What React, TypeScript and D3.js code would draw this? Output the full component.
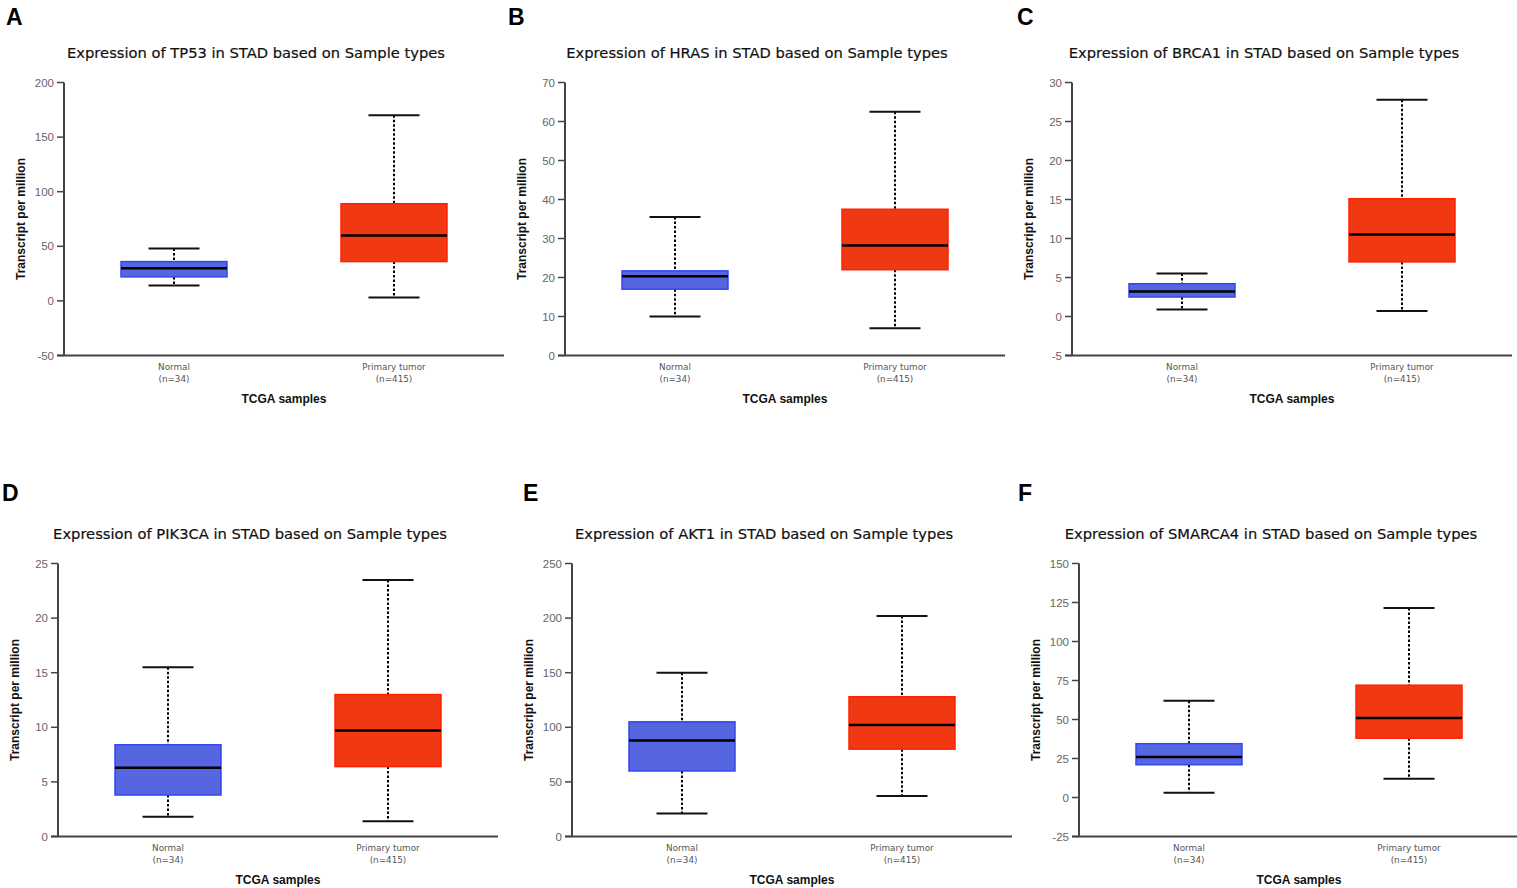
import React from "react";
import * as d3 from "d3";

const panelLetters = ["A", "B", "C", "D", "E", "F"];
const genes = ["TP53", "HRAS", "BRCA1", "PIK3CA", "AKT1", "SMARCA4"];
const categories = ["Normal", "Primary tumor"];
const sampleCounts = ["(n=34)", "(n=415)"];
const yDomains: [number, number][] = [
  [-50, 200],
  [0, 70],
  [-5, 30],
  [0, 25],
  [0, 250],
  [-25, 150],
];
const yTickSteps = [50, 10, 5, 5, 50, 25];
// [low whisker, Q1, median, Q3, high whisker]
const normalStats = [
  [14, 22, 30, 36, 48],
  [10, 17, 20.3, 21.7, 35.5],
  [0.9, 2.5, 3.2, 4.2, 5.5],
  [1.8, 3.8, 6.3, 8.4, 15.5],
  [21, 60, 88, 105, 150],
  [3, 21, 26, 34.5, 62],
];
const tumorStats = [
  [3, 36, 60, 89, 170],
  [7, 22, 28.2, 37.5, 62.5],
  [0.7, 7, 10.5, 15.1, 27.8],
  [1.4, 6.4, 9.7, 13, 23.5],
  [37, 80, 102, 128, 202],
  [12, 38, 51, 72, 121.5],
];

// layout
const axisXs = [64, 565, 1072, 58, 572, 1079];
const plotTops = [82.5, 82.5, 82.5, 563.5, 563.5, 563.5];
const letterPos = [
  [6, 25],
  [508, 25],
  [1017, 25],
  [2, 501],
  [523, 501],
  [1018, 501],
];
const PW = 440;
const PH = 273;
const BOXW = 106;
const CAPW = 51;

const fills = ["#5566e0", "#f03812"];
const strokes = ["#3347ee", "#ff2200"];

function Panel({ i }: { i: number }) {
  const x0 = axisXs[i];
  const top = plotTops[i];
  const [lo, hi] = yDomains[i];
  const y = d3.scaleLinear().domain([lo, hi]).range([top + PH, top]);
  const x = d3.scalePoint<string>().domain(categories).range([x0, x0 + PW]).padding(0.5);
  const ticks = d3.range(lo, hi + yTickSteps[i] / 2, yTickSteps[i]);
  const stats = [normalStats[i], tumorStats[i]];
  const bottom = top + PH;
  return (
    <g>
      <text
        x={letterPos[i][0]}
        y={letterPos[i][1]}
        fontFamily="Liberation Sans, Arial, sans-serif"
        fontWeight="bold"
        fontSize={23}
        fill="#000"
      >
        {panelLetters[i]}
      </text>
      <text
        x={x0 + 192}
        y={top - 25}
        textAnchor="middle"
        fontFamily="DejaVu Sans, Verdana, sans-serif"
        fontSize={14.7}
        fill="#111"
        stroke="#111"
        strokeWidth={0.2}
      >
        {`Expression of ${genes[i]} in STAD based on Sample types`}
      </text>
      {categories.map((c, k) => {
        const s = stats[k];
        const cx = x(c) as number;
        return (
          <g key={c}>
            <line x1={cx} x2={cx} y1={y(s[4])} y2={y(s[3])} stroke="#000" strokeWidth={2} strokeDasharray="2.5,2" />
            <line x1={cx} x2={cx} y1={y(s[1])} y2={y(s[0])} stroke="#000" strokeWidth={2} strokeDasharray="2.5,2" />
            <line x1={cx - CAPW / 2} x2={cx + CAPW / 2} y1={y(s[4])} y2={y(s[4])} stroke="#111" strokeWidth={2} />
            <line x1={cx - CAPW / 2} x2={cx + CAPW / 2} y1={y(s[0])} y2={y(s[0])} stroke="#111" strokeWidth={2} />
            <rect
              x={cx - BOXW / 2}
              y={y(s[3])}
              width={BOXW}
              height={y(s[1]) - y(s[3])}
              fill={fills[k]}
              stroke={strokes[k]}
              strokeWidth={1.5}
            />
            <line x1={cx - BOXW / 2} x2={cx + BOXW / 2} y1={y(s[2])} y2={y(s[2])} stroke="#000" strokeWidth={2.5} />
            <text
              x={cx}
              y={bottom + 14.5}
              textAnchor="middle"
              fontFamily="DejaVu Sans, Verdana, sans-serif"
              fontSize={8.8}
              fill="#555"
            >
              {c}
            </text>
            <text
              x={cx}
              y={bottom + 26.5}
              textAnchor="middle"
              fontFamily="DejaVu Sans, Verdana, sans-serif"
              fontSize={8.8}
              fill="#555"
            >
              {sampleCounts[k]}
            </text>
          </g>
        );
      })}
      <line x1={x0} x2={x0} y1={top} y2={bottom} stroke="#444" strokeWidth={2} />
      <line x1={x0 - 7} x2={x0 + PW} y1={bottom} y2={bottom} stroke="#444" strokeWidth={2} />
      {ticks.map((t) => (
        <g key={t}>
          <line x1={x0 - 7} x2={x0} y1={y(t)} y2={y(t)} stroke="#444" strokeWidth={1.5} />
          <text
            x={x0 - 10}
            y={y(t)}
            dy="0.35em"
            textAnchor="end"
            fontFamily="Liberation Sans, Arial, sans-serif"
            fontSize={11.5}
            fill="#666"
          >
            {t}
          </text>
        </g>
      ))}
      <text
        transform={`translate(${x0 - 43},${top + PH / 2}) rotate(-90)`}
        textAnchor="middle"
        dy="0.35em"
        fontFamily="Liberation Sans, Arial, sans-serif"
        fontWeight="bold"
        fontSize={12}
        fill="#111"
      >
        Transcript per million
      </text>
      <text
        x={x0 + PW / 2}
        y={bottom + 47.5}
        textAnchor="middle"
        fontFamily="Liberation Sans, Arial, sans-serif"
        fontWeight="bold"
        fontSize={12}
        fill="#111"
      >
        TCGA samples
      </text>
    </g>
  );
}

export default function App() {
  return (
    <svg
      width={1517}
      height={888}
      style={{ position: "absolute", left: 0, top: 0, background: "#fff" }}
    >
      <rect width={1517} height={888} fill="#fff" />
      {genes.map((g, i) => (
        <Panel key={g} i={i} />
      ))}
    </svg>
  );
}
